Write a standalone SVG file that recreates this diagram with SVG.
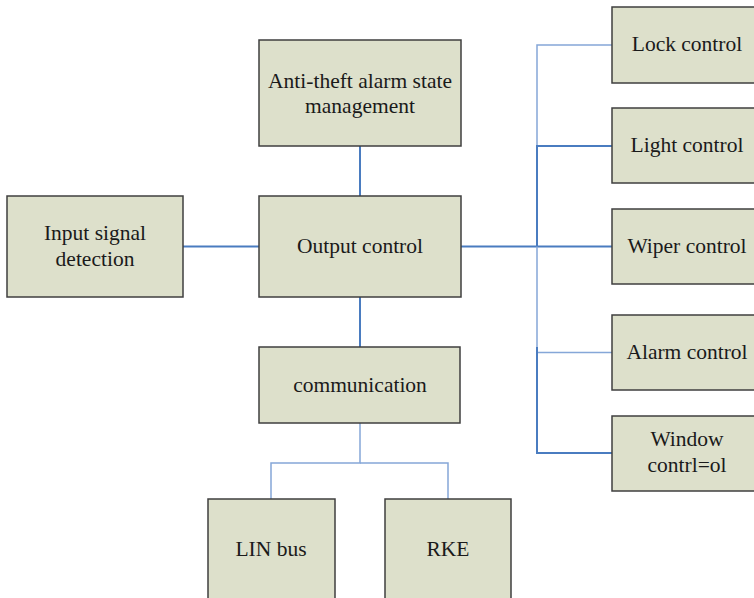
<svg xmlns="http://www.w3.org/2000/svg" width="754" height="598" viewBox="0 0 754 598">
<style>
.box{fill:#DDE0CB;stroke:#3F3F3F;stroke-width:1.5}
.t{font-family:"Liberation Serif",serif;font-size:21.5px;fill:#1a1a1a;text-anchor:middle}
.d{stroke:#4A7CC0;stroke-width:2;fill:none}
.l{stroke:#85A7D8;stroke-width:1.5;fill:none}
</style>
<rect width="754" height="598" fill="#fff"/>
<g id="connectors">
<line class="d" x1="360" y1="146" x2="360" y2="196"/>
<line class="d" x1="360" y1="297" x2="360" y2="347"/>
<line class="d" x1="183" y1="246.5" x2="259" y2="246.5"/>
<line class="d" x1="461" y1="246.5" x2="612" y2="246.5"/>
<polyline class="l" points="612,45 537,45 537,146"/>
<polyline class="d" points="612,146 537,146 537,246.5"/>
<polyline class="l" points="537,246.5 537,352.5 612,352.5"/>
<polyline class="d" points="537,347 537,453 612,453"/>
<polyline class="l" points="360,423 360,463 271,463 271,499"/>
<polyline class="l" points="360,463 448,463 448,499"/>
</g>
<g id="anti-theft"><rect class="box" x="259" y="40" width="202" height="106"/><text class="t" x="360" y="88">Anti-theft alarm state</text><text class="t" x="360" y="113">management</text></g>
<g id="output"><rect class="box" x="259" y="196" width="202" height="101"/><text class="t" x="360" y="253">Output control</text></g>
<g id="input"><rect class="box" x="7" y="196" width="176" height="101"/><text class="t" x="95" y="240">Input signal</text><text class="t" x="95" y="266">detection</text></g>
<g id="communication"><rect class="box" x="259" y="347" width="201" height="76"/><text class="t" x="360" y="392">communication</text></g>
<g id="lin"><rect class="box" x="208" y="499" width="127" height="110"/><text class="t" x="271" y="556">LIN bus</text></g>
<g id="rke"><rect class="box" x="385" y="499" width="126" height="110"/><text class="t" x="448" y="556">RKE</text></g>
<g id="lock"><rect class="box" x="612" y="7" width="150" height="76"/><text class="t" x="687" y="51">Lock control</text></g>
<g id="light"><rect class="box" x="612" y="108" width="150" height="75"/><text class="t" x="687" y="152">Light control</text></g>
<g id="wiper"><rect class="box" x="612" y="209" width="150" height="75"/><text class="t" x="687" y="253">Wiper control</text></g>
<g id="alarm"><rect class="box" x="612" y="315" width="150" height="75"/><text class="t" x="687" y="359">Alarm control</text></g>
<g id="window"><rect class="box" x="612" y="416" width="150" height="75"/><text class="t" x="687" y="446">Window</text><text class="t" x="687" y="472">contrl=ol</text></g>
</svg>
